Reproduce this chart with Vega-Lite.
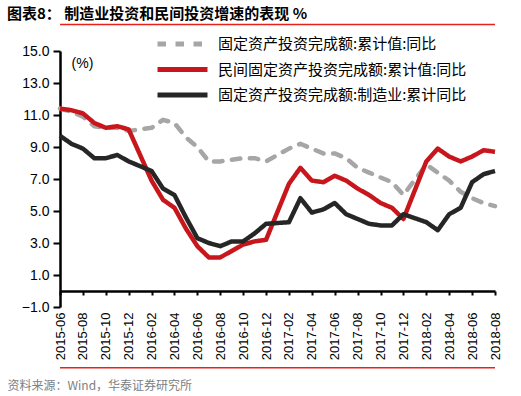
{
  "$schema": "https://vega.github.io/schema/vega-lite/v6.json",
  "width": 435,
  "height": 256,
  "autosize": {"type": "none"},
  "padding": {"left": 60, "top": 51, "right": 26, "bottom": 89},
  "background": "white",
  "title": {"text": "图表8：   制造业投资和民间投资增速的表现 %", "anchor": "start", "frame": "group", "dx": -53, "offset": 2, "font": "Noto Sans CJK SC", "fontSize": 15, "fontWeight": "bold", "color": "#000000"},
  "config": {
    "view": {"stroke": null},
    "axisY": {"labelOverlap": false, "labelFont": "Liberation Sans", "labelFontSize": 14, "labelColor": "#000000", "labelPadding": 4, "grid": false, "domainColor": "#000000", "domainWidth": 2.5, "tickColor": "#000000", "tickWidth": 2, "tickSize": 7},
    "legend": {"orient": "none", "legendX": 95, "legendY": -15, "symbolType": "stroke", "symbolSize": 2500, "symbolStrokeWidth": 5, "symbolStrokeCap": "round", "clipHeight": 16, "labelFont": "Noto Sans CJK SC", "labelFontSize": 15, "labelColor": "#000000", "rowPadding": 9.5, "labelOffset": 8, "labelLimit": 400, "padding": 0}
  },
  "datasets": {
    "rows": [
      {"m": "2015-06", "s": "固定资产投资完成额:累计值:同比", "v": 11.4},
      {"m": "2015-07", "s": "固定资产投资完成额:累计值:同比", "v": 11.2},
      {"m": "2015-08", "s": "固定资产投资完成额:累计值:同比", "v": 10.9},
      {"m": "2015-09", "s": "固定资产投资完成额:累计值:同比", "v": 10.3},
      {"m": "2015-10", "s": "固定资产投资完成额:累计值:同比", "v": 10.2},
      {"m": "2015-11", "s": "固定资产投资完成额:累计值:同比", "v": 10.2},
      {"m": "2015-12", "s": "固定资产投资完成额:累计值:同比", "v": 10.0},
      {"m": "2016-02", "s": "固定资产投资完成额:累计值:同比", "v": 10.2},
      {"m": "2016-03", "s": "固定资产投资完成额:累计值:同比", "v": 10.7},
      {"m": "2016-04", "s": "固定资产投资完成额:累计值:同比", "v": 10.5},
      {"m": "2016-05", "s": "固定资产投资完成额:累计值:同比", "v": 9.6},
      {"m": "2016-06", "s": "固定资产投资完成额:累计值:同比", "v": 9.0},
      {"m": "2016-07", "s": "固定资产投资完成额:累计值:同比", "v": 8.1},
      {"m": "2016-08", "s": "固定资产投资完成额:累计值:同比", "v": 8.1},
      {"m": "2016-09", "s": "固定资产投资完成额:累计值:同比", "v": 8.2},
      {"m": "2016-10", "s": "固定资产投资完成额:累计值:同比", "v": 8.3},
      {"m": "2016-11", "s": "固定资产投资完成额:累计值:同比", "v": 8.3},
      {"m": "2016-12", "s": "固定资产投资完成额:累计值:同比", "v": 8.1},
      {"m": "2017-02", "s": "固定资产投资完成额:累计值:同比", "v": 8.9},
      {"m": "2017-03", "s": "固定资产投资完成额:累计值:同比", "v": 9.2},
      {"m": "2017-04", "s": "固定资产投资完成额:累计值:同比", "v": 8.9},
      {"m": "2017-05", "s": "固定资产投资完成额:累计值:同比", "v": 8.6},
      {"m": "2017-06", "s": "固定资产投资完成额:累计值:同比", "v": 8.6},
      {"m": "2017-07", "s": "固定资产投资完成额:累计值:同比", "v": 8.3},
      {"m": "2017-08", "s": "固定资产投资完成额:累计值:同比", "v": 7.7},
      {"m": "2017-09", "s": "固定资产投资完成额:累计值:同比", "v": 7.4},
      {"m": "2017-10", "s": "固定资产投资完成额:累计值:同比", "v": 7.1},
      {"m": "2017-11", "s": "固定资产投资完成额:累计值:同比", "v": 6.8},
      {"m": "2017-12", "s": "固定资产投资完成额:累计值:同比", "v": 6.0},
      {"m": "2018-02", "s": "固定资产投资完成额:累计值:同比", "v": 7.9},
      {"m": "2018-03", "s": "固定资产投资完成额:累计值:同比", "v": 7.4},
      {"m": "2018-04", "s": "固定资产投资完成额:累计值:同比", "v": 6.9},
      {"m": "2018-05", "s": "固定资产投资完成额:累计值:同比", "v": 6.2},
      {"m": "2018-06", "s": "固定资产投资完成额:累计值:同比", "v": 5.8},
      {"m": "2018-07", "s": "固定资产投资完成额:累计值:同比", "v": 5.5},
      {"m": "2018-08", "s": "固定资产投资完成额:累计值:同比", "v": 5.3},
      {"m": "2015-06", "s": "民间固定资产投资完成额:累计值:同比", "v": 11.4},
      {"m": "2015-07", "s": "民间固定资产投资完成额:累计值:同比", "v": 11.3},
      {"m": "2015-08", "s": "民间固定资产投资完成额:累计值:同比", "v": 11.1},
      {"m": "2015-09", "s": "民间固定资产投资完成额:累计值:同比", "v": 10.5},
      {"m": "2015-10", "s": "民间固定资产投资完成额:累计值:同比", "v": 10.2},
      {"m": "2015-11", "s": "民间固定资产投资完成额:累计值:同比", "v": 10.3},
      {"m": "2015-12", "s": "民间固定资产投资完成额:累计值:同比", "v": 10.1},
      {"m": "2016-02", "s": "民间固定资产投资完成额:累计值:同比", "v": 6.9},
      {"m": "2016-03", "s": "民间固定资产投资完成额:累计值:同比", "v": 5.7},
      {"m": "2016-04", "s": "民间固定资产投资完成额:累计值:同比", "v": 5.2},
      {"m": "2016-05", "s": "民间固定资产投资完成额:累计值:同比", "v": 3.9},
      {"m": "2016-06", "s": "民间固定资产投资完成额:累计值:同比", "v": 2.8},
      {"m": "2016-07", "s": "民间固定资产投资完成额:累计值:同比", "v": 2.1},
      {"m": "2016-08", "s": "民间固定资产投资完成额:累计值:同比", "v": 2.1},
      {"m": "2016-09", "s": "民间固定资产投资完成额:累计值:同比", "v": 2.5},
      {"m": "2016-10", "s": "民间固定资产投资完成额:累计值:同比", "v": 2.9},
      {"m": "2016-11", "s": "民间固定资产投资完成额:累计值:同比", "v": 3.1},
      {"m": "2016-12", "s": "民间固定资产投资完成额:累计值:同比", "v": 3.2},
      {"m": "2017-02", "s": "民间固定资产投资完成额:累计值:同比", "v": 6.7},
      {"m": "2017-03", "s": "民间固定资产投资完成额:累计值:同比", "v": 7.7},
      {"m": "2017-04", "s": "民间固定资产投资完成额:累计值:同比", "v": 6.9},
      {"m": "2017-05", "s": "民间固定资产投资完成额:累计值:同比", "v": 6.8},
      {"m": "2017-06", "s": "民间固定资产投资完成额:累计值:同比", "v": 7.2},
      {"m": "2017-07", "s": "民间固定资产投资完成额:累计值:同比", "v": 6.9},
      {"m": "2017-08", "s": "民间固定资产投资完成额:累计值:同比", "v": 6.4},
      {"m": "2017-09", "s": "民间固定资产投资完成额:累计值:同比", "v": 6.0},
      {"m": "2017-10", "s": "民间固定资产投资完成额:累计值:同比", "v": 5.5},
      {"m": "2017-11", "s": "民间固定资产投资完成额:累计值:同比", "v": 5.2},
      {"m": "2017-12", "s": "民间固定资产投资完成额:累计值:同比", "v": 4.5},
      {"m": "2018-02", "s": "民间固定资产投资完成额:累计值:同比", "v": 8.1},
      {"m": "2018-03", "s": "民间固定资产投资完成额:累计值:同比", "v": 8.9},
      {"m": "2018-04", "s": "民间固定资产投资完成额:累计值:同比", "v": 8.4},
      {"m": "2018-05", "s": "民间固定资产投资完成额:累计值:同比", "v": 8.1},
      {"m": "2018-06", "s": "民间固定资产投资完成额:累计值:同比", "v": 8.4},
      {"m": "2018-07", "s": "民间固定资产投资完成额:累计值:同比", "v": 8.8},
      {"m": "2018-08", "s": "民间固定资产投资完成额:累计值:同比", "v": 8.7},
      {"m": "2015-06", "s": "固定资产投资完成额:制造业:累计同比", "v": 9.7},
      {"m": "2015-07", "s": "固定资产投资完成额:制造业:累计同比", "v": 9.2},
      {"m": "2015-08", "s": "固定资产投资完成额:制造业:累计同比", "v": 8.9},
      {"m": "2015-09", "s": "固定资产投资完成额:制造业:累计同比", "v": 8.3},
      {"m": "2015-10", "s": "固定资产投资完成额:制造业:累计同比", "v": 8.3},
      {"m": "2015-11", "s": "固定资产投资完成额:制造业:累计同比", "v": 8.5},
      {"m": "2015-12", "s": "固定资产投资完成额:制造业:累计同比", "v": 8.1},
      {"m": "2016-02", "s": "固定资产投资完成额:制造业:累计同比", "v": 7.5},
      {"m": "2016-03", "s": "固定资产投资完成额:制造业:累计同比", "v": 6.4},
      {"m": "2016-04", "s": "固定资产投资完成额:制造业:累计同比", "v": 6.0},
      {"m": "2016-05", "s": "固定资产投资完成额:制造业:累计同比", "v": 4.6},
      {"m": "2016-06", "s": "固定资产投资完成额:制造业:累计同比", "v": 3.3},
      {"m": "2016-07", "s": "固定资产投资完成额:制造业:累计同比", "v": 3.0},
      {"m": "2016-08", "s": "固定资产投资完成额:制造业:累计同比", "v": 2.8},
      {"m": "2016-09", "s": "固定资产投资完成额:制造业:累计同比", "v": 3.1},
      {"m": "2016-10", "s": "固定资产投资完成额:制造业:累计同比", "v": 3.1},
      {"m": "2016-11", "s": "固定资产投资完成额:制造业:累计同比", "v": 3.6},
      {"m": "2016-12", "s": "固定资产投资完成额:制造业:累计同比", "v": 4.2},
      {"m": "2017-02", "s": "固定资产投资完成额:制造业:累计同比", "v": 4.3},
      {"m": "2017-03", "s": "固定资产投资完成额:制造业:累计同比", "v": 5.8},
      {"m": "2017-04", "s": "固定资产投资完成额:制造业:累计同比", "v": 4.9},
      {"m": "2017-05", "s": "固定资产投资完成额:制造业:累计同比", "v": 5.1},
      {"m": "2017-06", "s": "固定资产投资完成额:制造业:累计同比", "v": 5.5},
      {"m": "2017-07", "s": "固定资产投资完成额:制造业:累计同比", "v": 4.8},
      {"m": "2017-08", "s": "固定资产投资完成额:制造业:累计同比", "v": 4.5},
      {"m": "2017-09", "s": "固定资产投资完成额:制造业:累计同比", "v": 4.2},
      {"m": "2017-10", "s": "固定资产投资完成额:制造业:累计同比", "v": 4.1},
      {"m": "2017-11", "s": "固定资产投资完成额:制造业:累计同比", "v": 4.1},
      {"m": "2017-12", "s": "固定资产投资完成额:制造业:累计同比", "v": 4.8},
      {"m": "2018-02", "s": "固定资产投资完成额:制造业:累计同比", "v": 4.3},
      {"m": "2018-03", "s": "固定资产投资完成额:制造业:累计同比", "v": 3.8},
      {"m": "2018-04", "s": "固定资产投资完成额:制造业:累计同比", "v": 4.8},
      {"m": "2018-05", "s": "固定资产投资完成额:制造业:累计同比", "v": 5.2},
      {"m": "2018-06", "s": "固定资产投资完成额:制造业:累计同比", "v": 6.8},
      {"m": "2018-07", "s": "固定资产投资完成额:制造业:累计同比", "v": 7.3},
      {"m": "2018-08", "s": "固定资产投资完成额:制造业:累计同比", "v": 7.5}
    ],
    "sep": [{"k": "top", "y": 16.65}, {"k": "bottom", "y": -4.8}]
  },
  "data": {"name": "rows"},
  "encoding": {
    "x": {
      "field": "m", "type": "ordinal",
      "scale": {"type": "point", "padding": 0, "domain": ["2015-06","2015-07","2015-08","2015-09","2015-10","2015-11","2015-12","2016-01","2016-02","2016-03","2016-04","2016-05","2016-06","2016-07","2016-08","2016-09","2016-10","2016-11","2016-12","2017-01","2017-02","2017-03","2017-04","2017-05","2017-06","2017-07","2017-08","2017-09","2017-10","2017-11","2017-12","2018-01","2018-02","2018-03","2018-04","2018-05","2018-06","2018-07","2018-08"]},
      "axis": {
        "values": ["2015-06","2015-08","2015-10","2015-12","2016-02","2016-04","2016-06","2016-08","2016-10","2016-12","2017-02","2017-04","2017-06","2017-08","2017-10","2017-12","2018-02","2018-04","2018-06","2018-08"],
        "offset": -16, "labelAngle": 270, "labelPadding": 17, "labelFont": "Liberation Sans", "labelFontSize": 13, "labelColor": "#000000", "labelOverlap": false,
        "domainColor": "#000000", "domainWidth": 2.5, "tickColor": "#000000", "tickWidth": 2, "tickSize": 4, "grid": false,
        "title": "资料来源：Wind，华泰证券研究所", "titleFont": "Noto Sans CJK SC", "titleFontSize": 12, "titleFontWeight": "normal", "titleColor": "#808080",
        "titleAnchor": "start", "titleAlign": "left", "titleBaseline": "middle", "titleX": -53, "titleY": 94
      }
    },
    "y": {
      "field": "v", "type": "quantitative",
      "scale": {"domain": [-1, 15], "nice": false, "zero": false},
      "axis": {
        "values": [-1, 1, 3, 5, 7, 9, 11, 13, 15], "format": ".1f",
        "title": "(%)", "titleAngle": 0, "titleX": 22, "titleY": 12, "titleAlign": "center", "titleBaseline": "middle",
        "titleFont": "Liberation Sans", "titleFontSize": 14, "titleFontWeight": "normal", "titleColor": "#000000"
      }
    },
    "color": {
      "field": "s", "type": "nominal", "title": null,
      "scale": {"domain": ["固定资产投资完成额:累计值:同比", "民间固定资产投资完成额:累计值:同比", "固定资产投资完成额:制造业:累计同比"], "range": ["#A6A6A6", "#C8161D", "#262626"]}
    },
    "strokeDash": {
      "field": "s", "type": "nominal", "title": null,
      "scale": {"domain": ["固定资产投资完成额:累计值:同比", "民间固定资产投资完成额:累计值:同比", "固定资产投资完成额:制造业:累计同比"], "range": [[8.5, 9.5], [1, 0], [1, 0]]}
    }
  },
  "layer": [
    {"transform": [{"filter": "datum.s === '固定资产投资完成额:累计值:同比'"}], "mark": {"type": "line", "strokeWidth": 4.5, "strokeJoin": "round", "strokeCap": "round"}},
    {"transform": [{"filter": "datum.s === '民间固定资产投资完成额:累计值:同比'"}], "mark": {"type": "line", "strokeWidth": 4.5, "strokeJoin": "round"}},
    {"transform": [{"filter": "datum.s === '固定资产投资完成额:制造业:累计同比'"}], "mark": {"type": "line", "strokeWidth": 4.5, "strokeJoin": "round"}},
    {
      "data": {"name": "sep"},
      "mark": {"type": "rule", "stroke": "#E8221A", "strokeWidth": 1.5},
      "encoding": {"y": {"field": "y", "type": "quantitative"}, "x": null, "color": null, "strokeDash": null}
    }
  ]
}
